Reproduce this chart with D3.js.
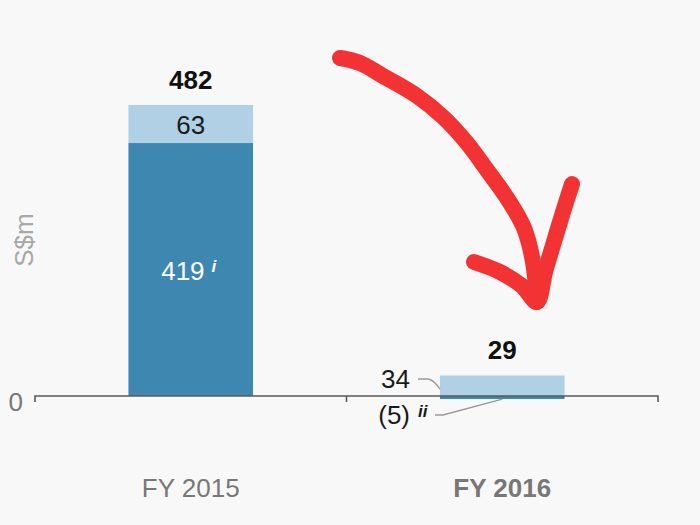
<!DOCTYPE html>
<html>
<head>
<meta charset="utf-8">
<script src="https://cdn.jsdelivr.net/npm/d3@7"></script>
<style>
html,body{margin:0;padding:0;background:#f8f8f8;}
svg{display:block;font-family:"Liberation Sans",Arial,sans-serif;}
</style>
</head>
<body>
<svg id="chart" width="700" height="525"></svg>
<script>
// ---- data ----
const categories = ["FY 2015", "FY 2016"];
const baseValues = [419, -5];      // dark segment
const otherValues = [63, 34];      // light segment
const totals = [482, 29];
const baseNotes = ["i", "ii"];
const yTicks = [0];

// ---- layout ----
const svg = d3.select("#chart");
const zeroY = 396;

const x = d3.scaleBand().domain(categories).range([35, 658]).padding(0);
const y = d3.scaleLinear().domain([0, 482]).range([zeroY, 105]);
const barW = x.bandwidth() * 0.4;
const cx = c => x(c) + x.bandwidth() / 2;

const dark = "#3e87b1", light = "#afd0e5";

// bars
categories.forEach((c, i) => {
  const b = baseValues[i], o = otherValues[i];
  svg.append("rect")
    .attr("x", cx(c) - barW / 2).attr("width", barW)
    .attr("y", y(Math.max(0, b))).attr("height", Math.abs(y(b) - y(0)))
    .attr("fill", dark);
  const start = Math.max(0, b);
  svg.append("rect")
    .attr("x", cx(c) - barW / 2).attr("width", barW)
    .attr("y", y(start + o)).attr("height", y(start) - y(start + o))
    .attr("fill", light);
});

// axis
const axisG = svg.append("g").attr("transform", `translate(0,${zeroY})`);
axisG.append("path")
  .attr("d", `M${x.range()[0]},6V0H${x.range()[1]}V6`)
  .attr("fill", "none").attr("stroke", "#5a5a5a").attr("stroke-width", 1.6);
categories.slice(1).forEach(c => {
  axisG.append("line").attr("x1", x(c)).attr("x2", x(c)).attr("y1", 0).attr("y2", 6)
    .attr("stroke", "#5a5a5a").attr("stroke-width", 1.6);
});

// y tick label
yTicks.forEach(t => {
  svg.append("text").attr("x", 23).attr("y", y(t) + 15)
    .attr("text-anchor", "end").attr("font-size", 26).attr("fill", "#777").text(t);
});

// y axis title
svg.append("text")
  .attr("transform", `translate(33,240) rotate(-90)`)
  .attr("text-anchor", "middle").attr("font-size", 26).attr("fill", "#a8a8a8")
  .text("S$m");

// category labels
categories.forEach((c, i) => {
  svg.append("text").attr("x", cx(c)).attr("y", 497)
    .attr("text-anchor", "middle").attr("font-size", 26)
    .attr("font-weight", i === 1 ? "bold" : "normal")
    .attr("fill", "#777").text(c);
});

// totals
categories.forEach((c, i) => {
  const top = y(Math.max(0, baseValues[i]) + otherValues[i]);
  svg.append("text").attr("x", cx(c)).attr("y", top - 16)
    .attr("text-anchor", "middle").attr("font-size", 26).attr("font-weight", "bold")
    .attr("fill", "#111").text(totals[i]);
});

// FY2015 inner labels
{
  const c = categories[0];
  svg.append("text").attr("x", cx(c)).attr("y", (y(baseValues[0]) + y(baseValues[0] + otherValues[0])) / 2 + 9.5)
    .attr("text-anchor", "middle").attr("font-size", 26).attr("fill", "#1a1a1a").text(otherValues[0]);
  const t = svg.append("text").attr("x", cx(c) - 2).attr("y", 280)
    .attr("text-anchor", "middle").attr("font-size", 26).attr("fill", "#fff");
  t.append("tspan").text(baseValues[0]);
  t.append("tspan").attr("dx", 7).attr("dy", -8).attr("font-size", 17)
    .attr("font-style", "italic").attr("font-weight", "bold").text(baseNotes[0]);
}

// FY2016 outside labels with leaders
{
  const c = categories[1];
  const left = cx(c) - barW / 2;
  svg.append("text").attr("x", 410).attr("y", 388)
    .attr("text-anchor", "end").attr("font-size", 26).attr("fill", "#1a1a1a").text(otherValues[1]);
  svg.append("path")
    .attr("d", `M418,379 L428,379 Q434,380 ${left},${y(otherValues[1] / 3)}`)
    .attr("fill", "none").attr("stroke", "#999").attr("stroke-width", 1.3);
  const t = svg.append("text").attr("x", 410).attr("y", 424)
    .attr("text-anchor", "end").attr("font-size", 26).attr("fill", "#1a1a1a");
  t.append("tspan").text(`(${Math.abs(baseValues[1])})`);
  svg.append("text").attr("x", 418).attr("y", 417).attr("font-size", 17)
    .attr("font-style", "italic").attr("font-weight", "bold").attr("fill", "#1a1a1a").text(baseNotes[1]);
  svg.append("path")
    .attr("d", `M435,415 L443,415 L${cx(c)},${y(baseValues[1])}`)
    .attr("fill", "none").attr("stroke", "#999").attr("stroke-width", 1.3);
}

// hand-drawn red arrow annotation
const arrowShaft = [[340,58],[360,63],[383,76],[417,96],[443,117],[467,143],[487,170],[507,198],[524,228],[533,262],[537,302]];
const arrowHead = [[474,262],[500,272],[522,286],[537,302],[545,272],[553,245],[563,212],[572,184]];
const line = d3.line().curve(d3.curveCatmullRom);
[arrowShaft, arrowHead].forEach(pts => {
  svg.append("path").attr("d", line(pts))
    .attr("fill", "none").attr("stroke", "#f33333").attr("stroke-width", 16)
    .attr("stroke-linecap", "round").attr("stroke-linejoin", "round");
});
</script>
</body>
</html>
